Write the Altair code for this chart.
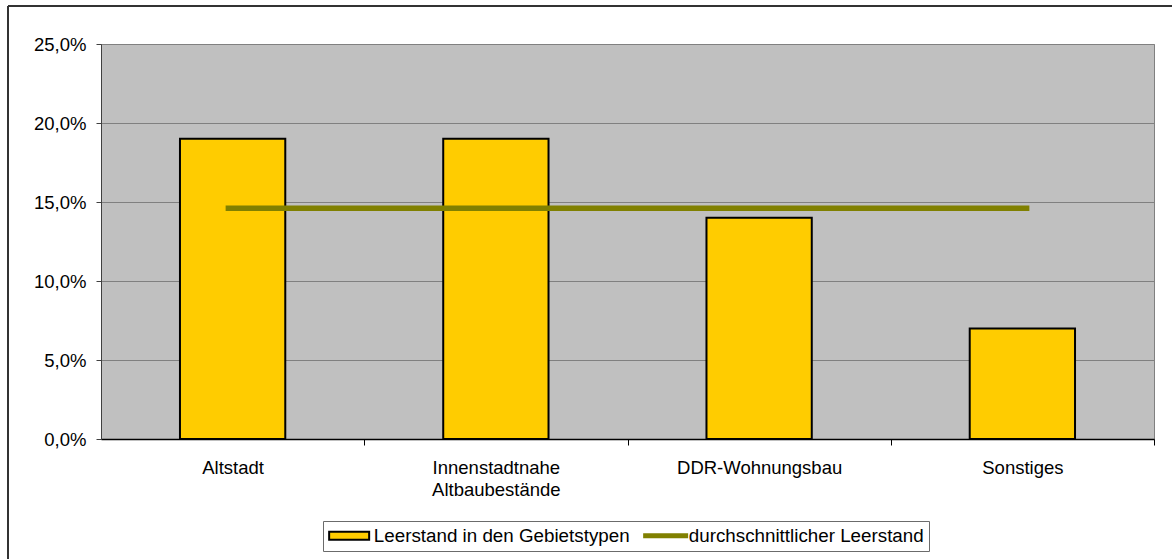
import altair as alt
import pandas as pd

# Leerstand nach Gebietstyp (in %)
categories = ["Altstadt", "Innenstadtnahe Altbaubestände", "DDR-Wohnungsbau", "Sonstiges"]
vacancy_pct = [19.0, 19.0, 14.0, 7.0]
average_pct = 14.6
series_names = ["Leerstand in den Gebietstypen", "durchschnittlicher Leerstand"]
y_ticks = [0, 5, 10, 15, 20, 25]

FONT = "Liberation Sans"
fill_colors = ["#FFCC00", "#808000"]
stroke_colors = ["#000000", "#808000"]
# legend symbols: framed box for the bars, thick bar for the average line
legend_shapes = ["M-1.65,-0.8H6.35V0.8H-1.65Z", "M-1.65,-0.3H6.95V0.3H-1.65Z"]

# plot area geometry of the band scale (used for tick placement between categories)
PLOT_W, PLOT_H = 1053, 395
PAD_INNER, PAD_OUTER = 0.6, 0.3
step = PLOT_W / (len(categories) - PAD_INNER + 2 * PAD_OUTER)
gap_half = PAD_INNER * step / 2

bars_df = pd.DataFrame({
    "Gebietstyp": categories,
    "Leerstand": vacancy_pct,
    "Reihe": [series_names[0]] * len(categories),
})
avg_df = pd.DataFrame({
    "von": [categories[0]],
    "bis": [categories[-1]],
    "Leerstand": [average_pct],
    "Reihe": [series_names[1]],
})
legend_df = pd.DataFrame({"Reihe": pd.Series([], dtype=str)})

legend_props = dict(
    title=None, orient="none", legendX=222, legendY=477, direction="horizontal",
    strokeColor="#6b6b6b", fillColor="#FFFFFF", padding=5,
    labelFont=FONT, labelFontSize=18.8, labelColor="#000000",
    symbolSize=100, symbolStrokeWidth=2, symbolOffset=0, labelOffset=27,
    symbolOpacity=1, columnPadding=10, labelLimit=400,
)

x_scale = alt.Scale(domain=categories, paddingInner=PAD_INNER, paddingOuter=PAD_OUTER)
y_scale = alt.Scale(domain=[0, 25], nice=False)
fill_scale = alt.Scale(domain=series_names, range=fill_colors)
stroke_scale = alt.Scale(domain=series_names, range=stroke_colors)
shape_scale = alt.Scale(domain=series_names, range=legend_shapes)

# ticks sit on the boundaries between categories, labels stay centred under the bars
x_axis = alt.Axis(
    title=None, labelAngle=0, ticks=True, bandPosition=1,
    tickOffset=gap_half, labelOffset=-gap_half,
    tickSize=6, labelPadding=13,
    labelExpr="split(datum.label, ' ')", labelLineHeight=22, labelBaseline="top",
    labelFont=FONT, labelFontSize=18.5, labelColor="#000000", labelOverlap=False,
    domainColor="#000000", domainWidth=1.5, tickColor="#000000", tickWidth=1, grid=False,
)
y_axis = alt.Axis(
    title=None, values=y_ticks, tickSize=5, labelPadding=10,
    labelExpr="replace(format(datum.value, '.1f'), '.', ',') + '%'",
    labelFont=FONT, labelFontSize=18.5, labelColor="#000000",
    domainColor="#404040", tickColor="#404040", gridColor="#808080", gridWidth=1,
)

bars = alt.Chart(bars_df).mark_bar(strokeWidth=2, opacity=1).encode(
    x=alt.X("Gebietstyp:N", scale=x_scale, axis=x_axis, sort=categories),
    y=alt.Y("Leerstand:Q", scale=y_scale, axis=y_axis),
    fill=alt.Fill("Reihe:N", scale=fill_scale, legend=alt.Legend(**legend_props)),
    stroke=alt.Stroke("Reihe:N", scale=stroke_scale, legend=alt.Legend(**legend_props)),
)

average = alt.Chart(avg_df).mark_rule(strokeWidth=5.5, xOffset=-7, x2Offset=7, opacity=1).encode(
    x=alt.X("von:N", scale=x_scale),
    x2="bis:N",
    y=alt.Y("Leerstand:Q", scale=y_scale),
    stroke=alt.Stroke("Reihe:N", scale=stroke_scale, legend=alt.Legend(**legend_props)),
)

legend_keys = alt.Chart(legend_df).mark_point(filled=True, opacity=1).encode(
    shape=alt.Shape("Reihe:N", scale=shape_scale, legend=alt.Legend(**legend_props)),
    fill=alt.Fill("Reihe:N", scale=fill_scale, legend=alt.Legend(**legend_props)),
    stroke=alt.Stroke("Reihe:N", scale=stroke_scale, legend=alt.Legend(**legend_props)),
)

# outer chart frame (left and top edge)
frame_left = alt.Chart(pd.DataFrame({"k": [0]})).mark_rule(color="#333333", strokeWidth=2).encode(
    x=alt.value(-93), y=alt.value(-38), y2=alt.value(520)
)
frame_top = alt.Chart(pd.DataFrame({"k": [0]})).mark_rule(color="#333333", strokeWidth=2).encode(
    x=alt.value(-93), x2=alt.value(1075), y=alt.value(-38)
)

chart = alt.layer(bars, average, legend_keys, frame_left, frame_top).properties(
    width=PLOT_W,
    height=PLOT_H,
    autosize=alt.AutoSizeParams(type="none"),
    padding={"left": 101, "top": 44, "right": 18, "bottom": 120},
    background="#FFFFFF",
    view=alt.ViewBackground(fill="#C0C0C0", stroke="#808080", strokeWidth=1),
).configure_legend(
    symbolFillColor="#FFCC00", symbolStrokeColor="#000000"
)

chart.save("out.html", embed_options={"renderer": "svg", "actions": False})
